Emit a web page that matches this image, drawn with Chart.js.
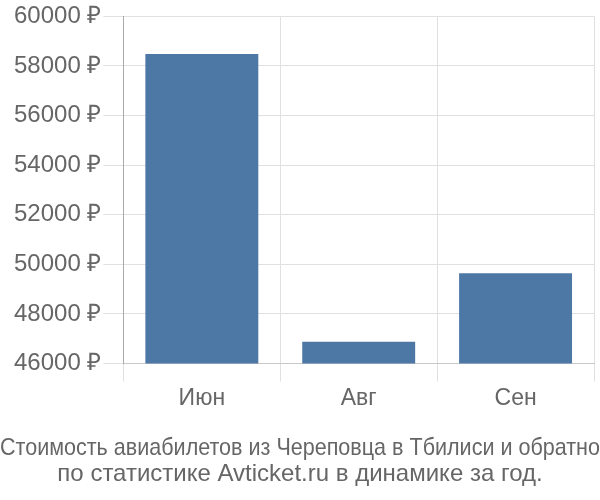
<!DOCTYPE html>
<html>
<head>
<meta charset="utf-8">
<script src="https://cdn.jsdelivr.net/npm/chart.js@4"></script>
<style>
  html, body { margin: 0; padding: 0; background: #fff; }
  #wrap { width: 600px; height: 500px; }
</style>
</head>
<body>
<div id="wrap"><canvas id="chart"></canvas></div>
<script>
const months = ["Июн", "Авг", "Сен"];
const prices = [58480, 46880, 49640];
const titleLines = [
  "Стоимость авиабилетов из Череповца в Тбилиси и обратно",
  "по статистике Avticket.ru в динамике за год."
];

function drawChart() {
  const ctx = document.getElementById("chart");
  new Chart(ctx, {
    type: "bar",
    data: {
      labels: months,
      datasets: [{
        data: prices,
        backgroundColor: "#4d78a6"
      }]
    },
    options: {
      responsive: true,
      maintainAspectRatio: false,
      animation: false,
      layout: { padding: { left: 0, right: 0, top: 3, bottom: 13 } },
      plugins: {
        legend: { display: false },
        tooltip: { enabled: false },
        title: {
          display: true,
          position: "bottom",
          text: titleLines,
          color: "#666",
          font: { family: "'Liberation Sans', Arial", size: 24, weight: "normal", lineHeight: 1.08 },
          padding: { top: 20, bottom: 0 }
        }
      },
      scales: {
        x: {
          afterFit: scale => { scale.paddingRight = 6; },
          grid: { color: "#e0e0e0", tickLength: 18, tickColor: "#e0e0e0" },
          border: { color: "#c8c8c8" },
          ticks: { color: "#666", font: { family: "'Liberation Sans', Arial", size: 23 }, padding: 3 }
        },
        y: {
          min: 46000,
          max: 60000,
          afterFit: scale => { scale.width += 12; },
          grid: { color: "#e0e0e0", tickLength: 20, tickColor: "#e0e0e0" },
          border: { color: "#aaa" },
          ticks: {
            stepSize: 2000,
            color: "#666",
            font: { family: "'Liberation Sans', Arial", size: 24 },
            padding: 2,
            callback: v => v + " ₽"
          }
        }
      }
    }
  });
}

drawChart();
</script>
</body>
</html>
